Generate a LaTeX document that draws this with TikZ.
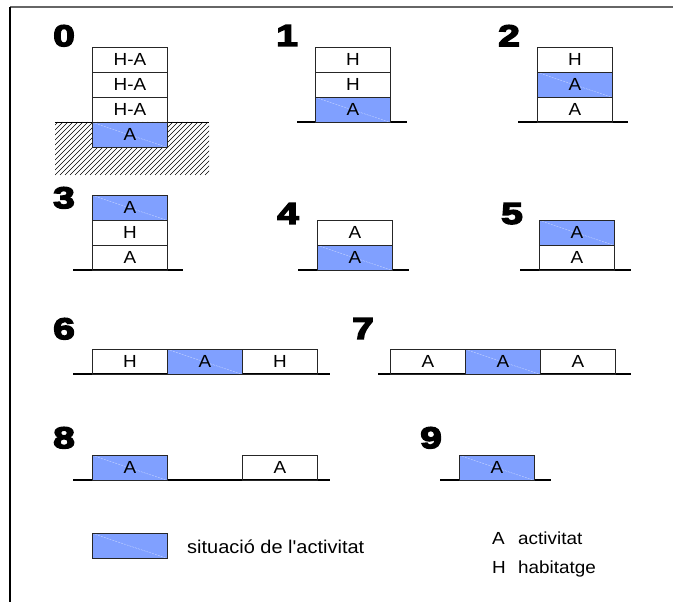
\documentclass[tikz,border=0pt]{standalone}
\usepackage{fontspec}
\setmainfont[FakeStretch=1.08]{Liberation Sans}
\newfontfamily\legfont[FakeStretch=1.08]{Liberation Sans}
\newfontfamily\digitfont[FakeStretch=1.3,FakeBold=5]{Liberation Sans Bold}
\definecolor{actblue}{RGB}{128,160,255}
\tikzset{
  cell/.style={draw=black!85, line width=0.9pt, minimum width=75pt, minimum height=25pt,
    inner sep=0pt, anchor=north west, font=\fontsize{17.5}{18}\selectfont},
  act/.style={cell, fill=actblue, path picture={\draw[white!55!actblue, line width=0.4pt, dash pattern=on 2pt off 1pt]
    (path picture bounding box.north west) -- (path picture bounding box.south east);}},
  ground/.style={line width=1.3pt, black},
  num/.style={font=\fontsize{30}{30}\digitfont, inner sep=0pt, anchor=north west},
  legtext/.style={inner sep=0pt, anchor=base west, font=\fontsize{17.5}{18}\selectfont},
}
\begin{document}
\begin{tikzpicture}[x=1pt,y=-1pt]
\useasboundingbox (0,0) rectangle (673,602);
% frame
\draw[line width=1.5pt, black!60] (10,7) -- (673,7);
\draw[line width=1.3pt, black] (10,7) -- (10,602);

% group 0
\begin{scope}
  \clip (55,122) rectangle (209,175);
  \foreach \i in {-50,-45,...,210} \draw[line width=0.45pt] (\i,175) -- (\i+53,122);
\end{scope}
\draw[line width=0.8pt] (55,122) -- (209,122);
\node[num] (l0) at (53,25) {0};
\node[cell] (c0a) at (92,47) {H-A};
\node[cell] (c0b) at (92,72) {H-A};
\node[cell] (c0c) at (92,97) {H-A};
\node[act] (c0d) at (92,122) {A};

% group 1
\draw[ground] (297,122) -- (407,122);
\node[num] (l1) at (276,25) {1};
\node[cell] (c1a) at (315,47) {H};
\node[cell] (c1b) at (315,72) {H};
\node[act] (c1c) at (315,97) {A};

% group 2
\draw[ground] (518,122) -- (628,122);
\node[num] (l2) at (498,25) {2};
\node[cell] (c2a) at (537,47) {H};
\node[act] (c2b) at (537,72) {A};
\node[cell] (c2c) at (537,97) {A};

% group 3
\draw[ground] (73,270) -- (183,270);
\node[num] (l3) at (53,187) {3};
\node[act] (c3a) at (92,195) {A};
\node[cell] (c3b) at (92,220) {H};
\node[cell] (c3c) at (92,245) {A};

% group 4
\draw[ground] (298,270) -- (409,270);
\node[num] (l4) at (277,203) {4};
\node[cell] (c4a) at (317,220) {A};
\node[act] (c4b) at (317,245) {A};

% group 5
\draw[ground] (520,270) -- (631,270);
\node[num] (l5) at (501,203) {5};
\node[act] (c5a) at (539,220) {A};
\node[cell] (c5b) at (539,245) {A};

% group 6
\draw[ground] (73,374) -- (330,374);
\node[num] (l6) at (53,318) {6};
\node[cell] (c6a) at (92,349) {H};
\node[act] (c6b) at (167,349) {A};
\node[cell] (c6c) at (242,349) {H};

% group 7
\draw[ground] (378,374) -- (631,374);
\node[num] (l7) at (352,318) {7};
\node[cell] (c7a) at (390,349) {A};
\node[act] (c7b) at (465,349) {A};
\node[cell] (c7c) at (540,349) {A};

% group 8
\draw[ground] (73,480) -- (330,480);
\node[num] (l8) at (53,427) {8};
\node[act] (c8a) at (92,455) {A};
\node[cell] (c8b) at (242,455) {A};

% group 9
\draw[ground] (440,480) -- (551,480);
\node[num] (l9) at (420,427) {9};
\node[act] (c9a) at (459,455) {A};

% legend
\node[act] (leg) at (92,533) {};
\node[legtext, font=\fontsize{18.5}{19}\legfont] (legt) at (187,553) {situació de l'activitat};
\node[legtext] (ka) at (492,544) {A};
\node[legtext] (kat) at (518,544) {activitat};
\node[legtext] (kh) at (492,573) {H};
\node[legtext] (kht) at (518,573) {habitatge};
\end{tikzpicture}
\end{document}
